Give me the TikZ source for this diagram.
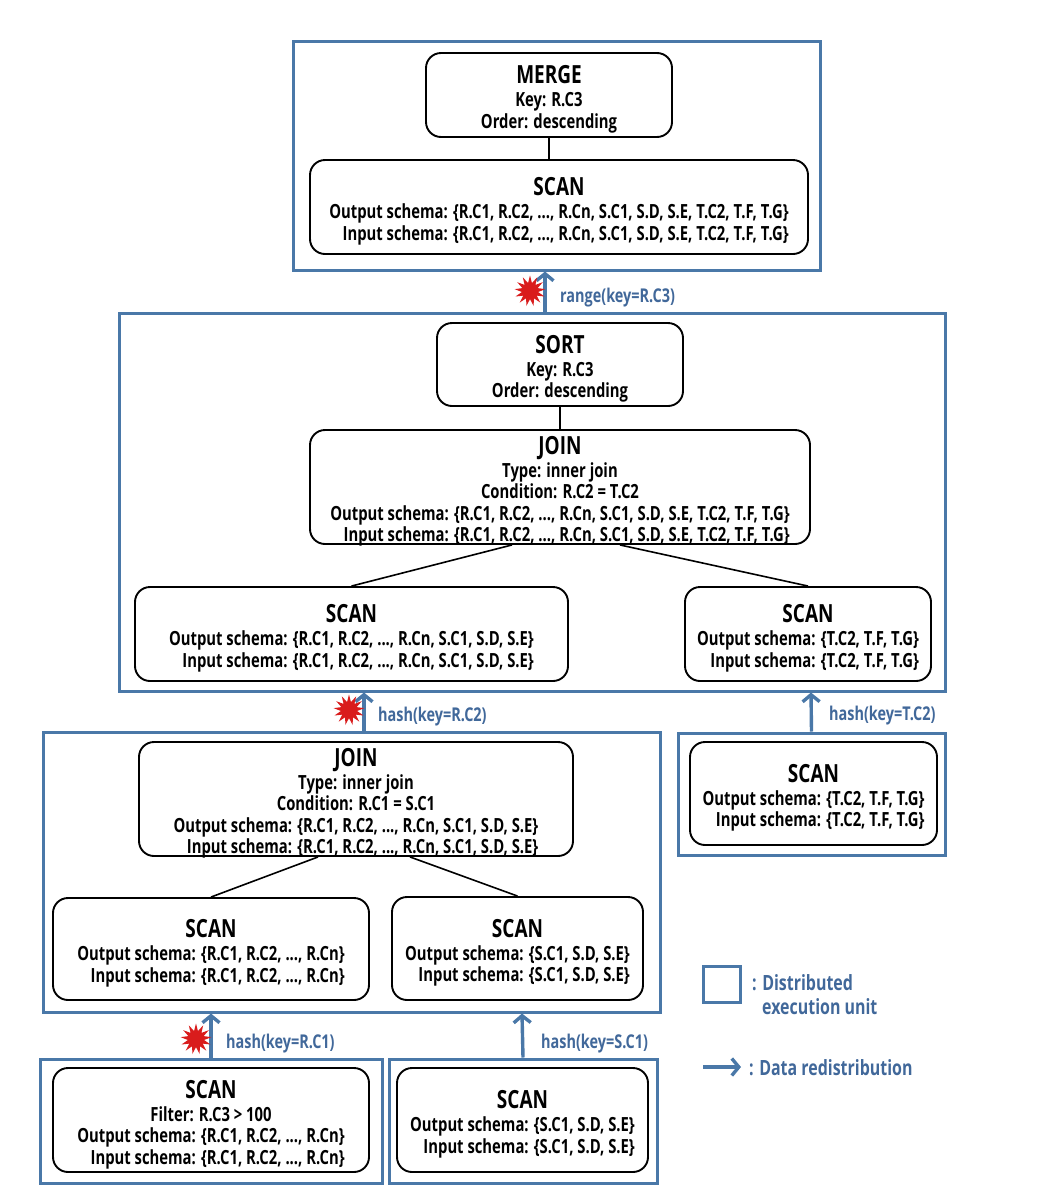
\documentclass[tikz,border=0pt]{standalone}
\usepackage{fontspec}
\setmainfont{Open Sans}[FakeStretch=0.76]
\usepackage{tikz}
\usetikzlibrary{arrows.meta,shapes.geometric}
\definecolor{unitblue}{HTML}{4A78A8}
\definecolor{labelblue}{HTML}{41689A}
\definecolor{crashred}{HTML}{D91C1C}
\newcommand{\opname}[1]{{\fontsize{25}{26}\selectfont #1}\\[1.5pt]}
\newcommand{\opbody}[1]{\raisebox{-10.5pt}[0pt][0pt]{\begin{tabular}{@{}c@{}}#1\end{tabular}}}
\newcommand{\schemas}[2]{\begin{tabular}[t]{@{}r@{}}Output schema: #1\\Input schema: #2\end{tabular}}
\tikzset{
  opbox/.style={draw=black,line width=1.9pt,rounded corners=15pt,fill=white,inner sep=0pt,
    font=\fontsize{19.5}{21.5}\selectfont\bfseries},
  unitbox/.style={draw=unitblue,line width=3pt,inner sep=0pt},
  oplink/.style={draw=black,line width=1.6pt},
  redist/.style={draw=unitblue,line width=3.4pt,-{Straight Barb[length=7pt,width=17pt]}},
  keylabel/.style={text=labelblue,anchor=west,inner sep=0pt,font=\fontsize{19}{21}\selectfont\bfseries},
  crash/.style={star,star points=13,star point ratio=1.9,fill=crashred,minimum size=31pt,inner sep=0pt}
}
\begin{document}
\begin{tikzpicture}[x=1pt,y=-1pt]
\useasboundingbox (0,0) rectangle (1052,1200);
%units
\node[unitbox,minimum width=527pt,minimum height=229pt] (mergeunit) at (556.5,155.5) {};
\node[unitbox,minimum width=826pt,minimum height=378pt] (sortunit) at (532,502) {};
\node[unitbox,minimum width=617pt,minimum height=280pt] (joinunit) at (351.5,872) {};
\node[unitbox,minimum width=267pt,minimum height=122pt] (tunit) at (811.5,794) {};
\node[unitbox,minimum width=342pt,minimum height=124pt] (filterunit) at (211,1121) {};
\node[unitbox,minimum width=268pt,minimum height=124pt] (sunit) at (523,1121) {};
%top unit
\node[opbox,minimum width=246pt,minimum height=84pt] (merge) at (549,95) {\opbody{\opname{MERGE}Key: R.C3\\Order: descending}};
\node[opbox,minimum width=498pt,minimum height=94pt] (scanall) at (559,207) {\opbody{\opname{SCAN}\schemas{\{R.C1, R.C2, ..., R.Cn, S.C1, S.D, S.E, T.C2, T.F, T.G\}}{\{R.C1, R.C2, ..., R.Cn, S.C1, S.D, S.E, T.C2, T.F, T.G\}}}};
%middle unit
\node[opbox,minimum width=246pt,minimum height=83pt] (sort) at (560,364.5) {\opbody{\opname{SORT}Key: R.C3\\Order: descending}};
\node[opbox,minimum width=500pt,minimum height=114pt] (joinrst) at (560,487) {\opbody{\opname{JOIN}Type: inner join\\Condition: R.C2 = T.C2\\\schemas{\{R.C1, R.C2, ..., R.Cn, S.C1, S.D, S.E, T.C2, T.F, T.G\}}{\{R.C1, R.C2, ..., R.Cn, S.C1, S.D, S.E, T.C2, T.F, T.G\}}}};
\node[opbox,minimum width=433pt,minimum height=94pt] (scanrs) at (351.5,634) {\opbody{\opname{SCAN}\schemas{\{R.C1, R.C2, ..., R.Cn, S.C1, S.D, S.E\}}{\{R.C1, R.C2, ..., R.Cn, S.C1, S.D, S.E\}}}};
\node[opbox,minimum width=246pt,minimum height=94pt] (scantop) at (808,634) {\opbody{\opname{SCAN}\schemas{\{T.C2, T.F, T.G\}}{\{T.C2, T.F, T.G\}}}};
%lower units
\node[opbox,minimum width=434pt,minimum height=114pt] (joinrs) at (356,799) {\opbody{\opname{JOIN}Type: inner join\\Condition: R.C1 = S.C1\\\schemas{\{R.C1, R.C2, ..., R.Cn, S.C1, S.D, S.E\}}{\{R.C1, R.C2, ..., R.Cn, S.C1, S.D, S.E\}}}};
\node[opbox,minimum width=316pt,minimum height=102pt] (scanr) at (211,949) {\opbody{\opname{SCAN}\schemas{\{R.C1, R.C2, ..., R.Cn\}}{\{R.C1, R.C2, ..., R.Cn\}}}};
\node[opbox,minimum width=251pt,minimum height=103pt] (scans) at (517.5,948.5) {\opbody{\opname{SCAN}\schemas{\{S.C1, S.D, S.E\}}{\{S.C1, S.D, S.E\}}}};
\node[opbox,minimum width=247pt,minimum height=103pt] (scant) at (813.5,793.5) {\opbody{\opname{SCAN}\schemas{\{T.C2, T.F, T.G\}}{\{T.C2, T.F, T.G\}}}};
\node[opbox,minimum width=316pt,minimum height=104pt] (scanfilter) at (211,1120) {\opbody{\opname{SCAN}Filter: R.C3 > 100\\\schemas{\{R.C1, R.C2, ..., R.Cn\}}{\{R.C1, R.C2, ..., R.Cn\}}}};
\node[opbox,minimum width=251pt,minimum height=104pt] (scansource) at (522.5,1120) {\opbody{\opname{SCAN}\schemas{\{S.C1, S.D, S.E\}}{\{S.C1, S.D, S.E\}}}};
%plan edges
\draw[oplink] (merge.south) -- (merge.south |- scanall.north);
\draw[oplink] (sort) -- (joinrst);
\draw[oplink] ([xshift=-48pt]joinrst.south) -- (scanrs.north);
\draw[oplink] ([xshift=60pt]joinrst.south) -- (scantop.north);
\draw[oplink] ([xshift=-38pt]joinrs.south) -- (scanr.north);
\draw[oplink] ([xshift=54pt]joinrs.south) -- (scans.north);
%redistribution
\draw[redist] ([xshift=13pt]sortunit.north) -- ([xshift=-11.5pt]mergeunit.south);
\draw[redist] ([xshift=12.5pt]joinunit.north) -- ([xshift=-168pt]sortunit.south);
\draw[redist] (tunit.north) -- ([xshift=279pt]sortunit.south);
\draw[redist] (filterunit.north) -- ([xshift=-140.5pt]joinunit.south);
\draw[redist] (sunit.north) -- ([xshift=170.5pt]joinunit.south);
\node[keylabel] (lrange) at (560,297.5) {range(key=R.C3)};
\node[keylabel] (lrc2) at (378,716.5) {hash(key=R.C2)};
\node[keylabel] (ltc2) at (829,715.5) {hash(key=T.C2)};
\node[keylabel] (lrc1) at (226,1043.5) {hash(key=R.C1)};
\node[keylabel] (lsc1) at (541,1043.5) {hash(key=S.C1)};
\node[crash] (crashtop) at (530,291) {};
\node[crash] (crashmid) at (349,710) {};
\node[crash] (crashlow) at (196,1039) {};
%legend
\node[unitbox,minimum width=37pt,minimum height=36pt] (keybox) at (721.5,984) {};
\coordinate (keyfrom) at (703,1067);
\coordinate (keyto) at (741,1067);
\draw[redist] (keyfrom) -- (keyto);
\node[keylabel,font=\fontsize{21}{24}\selectfont\bfseries,align=left] (keyunit) at (752,995) {: Distributed\\\hspace*{10pt}execution unit};
\node[keylabel,font=\fontsize{21}{24}\selectfont\bfseries] (keydata) at (749,1068) {: Data redistribution};
\end{tikzpicture}
\end{document}
